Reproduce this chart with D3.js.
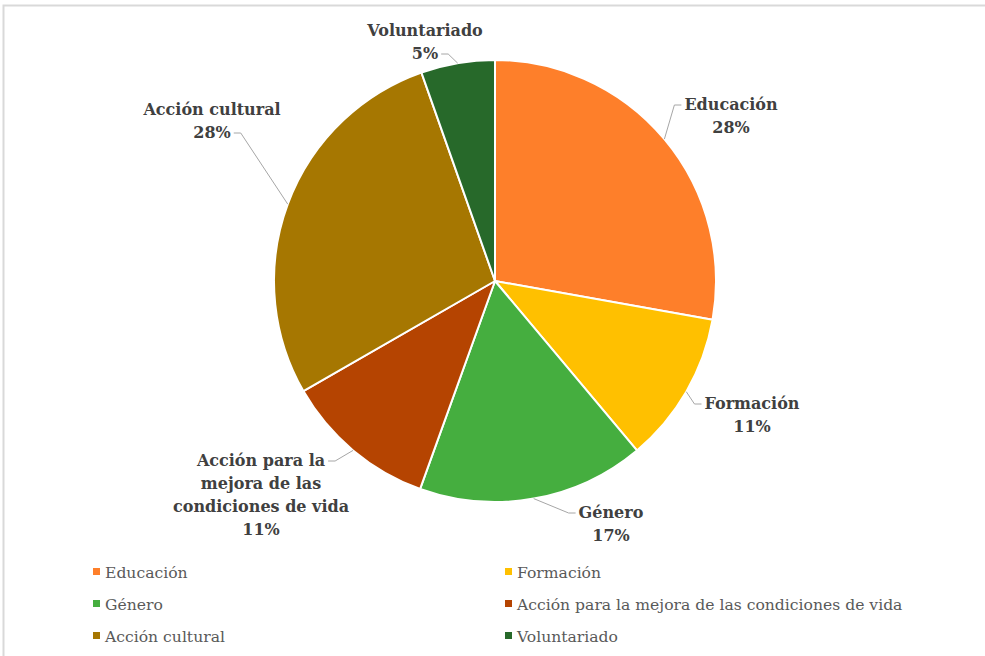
<!DOCTYPE html>
<html lang="es">
<head>
<meta charset="UTF-8">
<title>Pie</title>
<script src="https://cdn.jsdelivr.net/npm/d3@7"></script>
<style>
    body { margin:0; background:#fff; }
    .lbl text { fill:#404040; font:bold 16px "DejaVu Serif", serif; }
    .legend text { fill:#595959; font:15.6px "DejaVu Serif", serif; }
</style>
</head>
<body>
<div class="app"></div>
<script>
    // datos (porcentajes)
    var categories = ['Educación', 'Formación', 'Género',
        'Acción para la mejora de las condiciones de vida', 'Acción cultural', 'Voluntariado'];
    var values = [27.8, 11.1, 16.6, 11.2, 27.9, 5.4];
    var colors = ['#fe7f2a', '#ffc000', '#45ae3f', '#b54401', '#a67701', '#27692a'];
    // etiquetas (saltos de línea como en el gráfico)
    var labelLines = [['Educación'], ['Formación'], ['Género'],
        ['Acción para la', 'mejora de las', 'condiciones de vida'], ['Acción cultural'], ['Voluntariado']];

    // posición de cada etiqueta respecto al centro: [dx, dy de la 1ª línea, línea de la guía]
    var labelLayout = [[236, -171, 0], [257, 128, 0], [116, 237, 0],
        [-234, 185, 0], [-283, -166, 1], [-70, -245, 1]];

    var width = 985, height = 656,
        cx = 495, cy = 281, r = 221, lineH = 23;

    var svg = d3.select('.app').append('svg')
        .attr('width', width).attr('height', height);

    // marco
    svg.append('path')
        .attr('d', 'M3.5,' + height + 'V5.5H' + width)
        .attr('fill', 'none').attr('stroke', '#d9d9d9').attr('stroke-width', 2);

    var pie = d3.pie().sort(null).value(function(d){ return d; });
    var arcs = pie(values);
    var arc = d3.arc().innerRadius(0).outerRadius(r);
    var fmt = d3.format('.0%');
    var total = d3.sum(values);

    var g = svg.append('g').attr('transform', 'translate(' + cx + ',' + cy + ')');

    g.selectAll('.slice').data(arcs).enter().append('path')
        .attr('class', 'slice')
        .attr('d', arc)
        .attr('fill', function(d, i){ return colors[i]; })
        .attr('stroke', '#fff').attr('stroke-width', 2).attr('stroke-linejoin', 'round');

    // etiquetas
    var lbl = g.selectAll('.lbl').data(arcs).enter().append('g').attr('class', 'lbl');
    lbl.each(function(d, i){
        var el = d3.select(this), L = labelLayout[i];
        var lines = labelLines[i].concat([fmt(d.value / total)]);
        var texts = lines.map(function(s, k){
            return el.append('text')
                .attr('x', L[0]).attr('y', L[1] + k * lineH)
                .attr('text-anchor', 'middle')
                .text(s);
        });
        // guía
        var mid = (d.startAngle + d.endAngle) / 2;
        var ex = r * Math.sin(mid), ey = -r * Math.cos(mid);
        var t = texts[L[2]], w = t.node().getComputedTextLength();
        var sy = L[1] + L[2] * lineH - 5;
        var side = ex > L[0] ? 1 : -1;
        var sx = L[0] + side * (w / 2 + 3);
        el.append('path')
            .attr('d', 'M' + sx + ',' + sy + 'h' + (side * 7) + 'L' + ex + ',' + ey)
            .attr('fill', 'none').attr('stroke', '#a6a6a6').attr('stroke-width', 1);
    });

    // leyenda
    var legend = svg.append('g').attr('class', 'legend');
    var item = legend.selectAll('g').data(categories).enter().append('g')
        .attr('transform', function(d, i){
            return 'translate(' + (i % 2 ? 505 : 93) + ',' + (572 + Math.floor(i / 2) * 32) + ')';
        });
    item.append('rect')
        .attr('x', 0).attr('y', -4).attr('width', 7).attr('height', 7)
        .attr('fill', function(d, i){ return colors[i]; });
    item.append('text')
        .attr('x', 12).attr('y', 6)
        .text(function(d){ return d; });
</script>
</body>
</html>
